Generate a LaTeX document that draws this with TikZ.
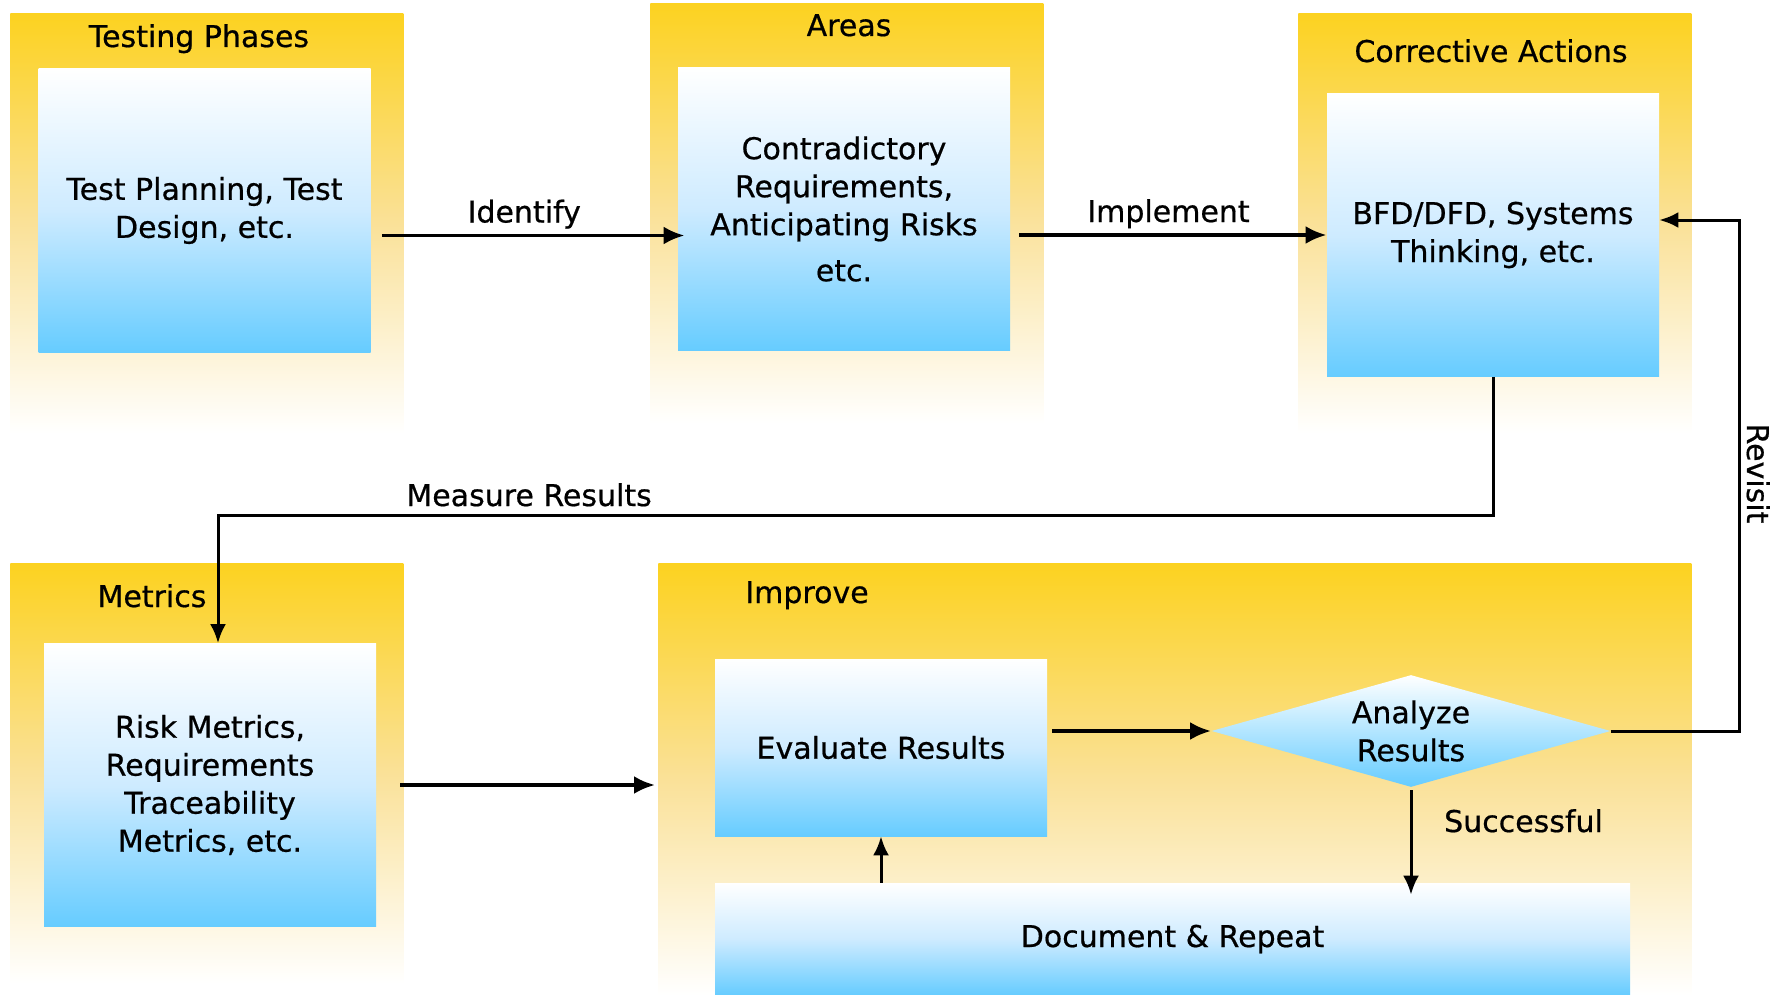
\documentclass[tikz,border=0pt]{standalone}
\usepackage{fontspec}
\setmainfont{DejaVu Sans}[UprightFeatures={FakeBold=0.6}]
\usepackage{tikz}
\usetikzlibrary{arrows.meta, shapes.geometric}
\usepackage{xcolor}

\definecolor{gold}{RGB}{252,210,32}
\definecolor{goldpale}{RGB}{250,225,152}
\definecolor{skyblue}{RGB}{102,204,255}
\definecolor{skypale}{RGB}{206,235,255}

\begin{document}
\begin{tikzpicture}[
  x=0.5pt, y=-0.5pt,
  font=\fontsize{15}{19}\selectfont,
  panel/.style={rectangle, anchor=north west, inner sep=0pt, minimum width=196.5pt, minimum height=210pt, top color=gold, bottom color=white, middle color=goldpale},
  box/.style={rectangle, inner sep=0pt, minimum width=166pt, minimum height=141.5pt, top color=white, bottom color=skyblue, middle color=skypale, align=center},
  decision/.style={diamond, inner sep=0pt, aspect=3.56, minimum width=199.5pt, minimum height=56pt, top color=white, bottom color=skyblue, align=center},
  title/.style={anchor=base},
  arrow/.style={-{Latex[length=10.5pt, width=9pt]}, line width=1.9pt},
  thin arrow/.style={-{Latex[length=9.5pt, width=8pt]}, line width=1.5pt}
]

\fill[white] (0,0) rectangle (1777,995);
\useasboundingbox (0,0) rectangle (1777,995);

% yellow backdrops
\node[panel] (phasesbg) at (10,13) {};
\node[panel] (areasbg) at (650,3) {};
\node[panel] (correctbg) at (1298,13) {};
\node[panel] (metricsbg) at (10,563) {};
\node[panel, minimum width=516.5pt, minimum height=216pt] (improvebg) at (658,563) {};

% headings
\node[title] (phasestitle) at (199,47) {Testing Phases};
\node[title] (areastitle) at (849,36) {Areas};
\node[title] (correcttitle) at (1491,62) {Corrective Actions};
\node[title] (metricstitle) at (152,607) {Metrics};
\node[title] (improvetitle) at (807,603) {Improve};

% blue boxes
\node[box] (phases) at (204.5,210.5) {Test Planning, Test\\Design, etc.};
\node[box] (areas) at (844,209) {Contradictory\\Requirements,\\Anticipating Risks\\[4pt]etc.};
\node[box] (correct) at (1493,235) {BFD/DFD, Systems\\Thinking, etc.};
\node[box] (metrics) at (210,785) {Risk Metrics,\\Requirements\\Traceability\\Metrics, etc.};
\node[box, minimum height=88.5pt] (evaluate) at (881,747.5) {Evaluate Results};
\node[box, minimum width=457.5pt, minimum height=56pt] (document) at (1172.5,939) {Document \& Repeat};
\node[decision] (analyze) at (1411,731) {Analyze\\Results};

\coordinate (bend) at (218,515);
\coordinate (back) at (1739,220);

\draw[arrow, shorten <=5.5pt, shorten >=-3.5pt] ([yshift=-12.5pt]phases.east) -- ([yshift=-12.5pt]phases.east -| areas.west)
  node[midway, anchor=base, yshift=6.5pt] (identify) {Identify};
\draw[arrow, shorten <=4.5pt] ([yshift=-13pt]areas.east) -- ([yshift=-13pt]areas.east -| correct.west)
  node[midway, anchor=base, yshift=6.5pt] (implement) {Implement};
\draw[thin arrow] (correct.south) |- (bend)
  node[pos=0.878, anchor=base, yshift=4.5pt] (measure) {Measure Results}
  -- (bend |- metrics.north);
\draw[arrow, shorten <=12pt, shorten >=1.5pt] (metrics.east) -- (metrics.east -| improvebg.west);
\draw[arrow, shorten <=2.5pt] (evaluate.east |- analyze.west) -- (analyze.west);
\draw[thin arrow] (analyze.east) -| (back)
  node[pos=0.752, xshift=4pt, rotate=-90, anchor=base] (revisit) {Revisit}
  -- (back -| correct.east);
\draw[thin arrow, shorten <=1.5pt, shorten >=-6pt] (analyze.south) -- (analyze.south |- document.north)
  node[midway, anchor=base west, xshift=12.5pt, yshift=1.5pt] (success) {Successful};
\draw[thin arrow] (evaluate.south |- document.north) -- (evaluate.south);

\end{tikzpicture}
\end{document}
